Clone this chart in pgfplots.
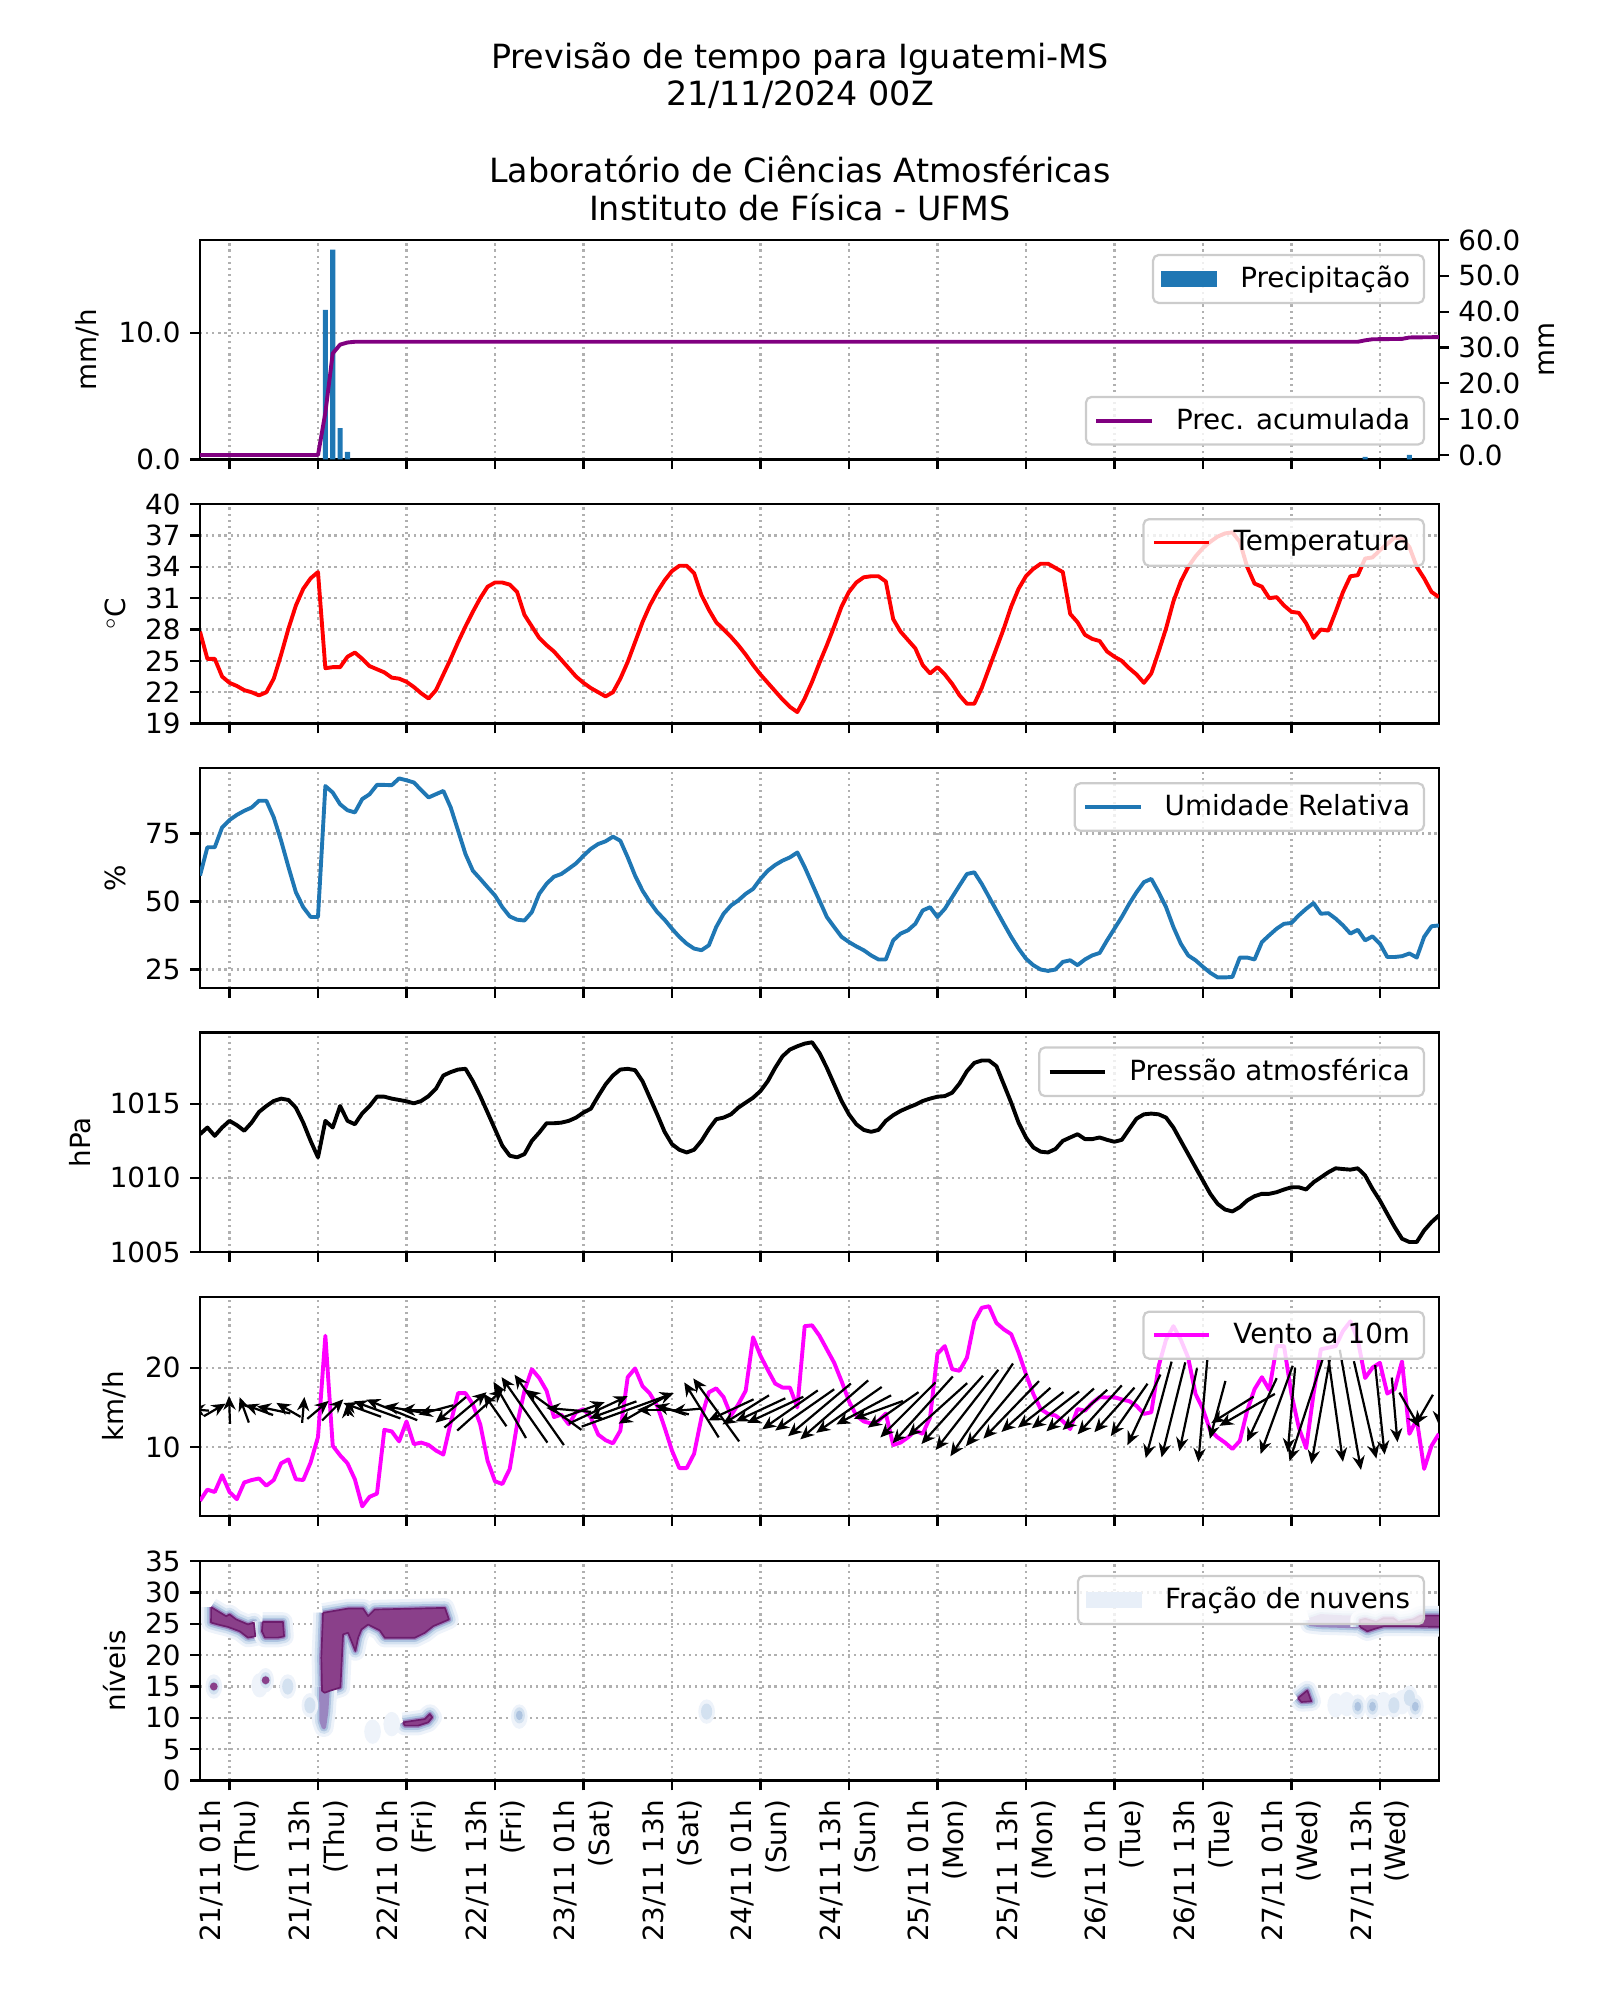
\documentclass[border=0pt]{standalone}
\usepackage{fontspec}
\setmainfont{DejaVu Sans}
\usepackage{pgfplots}
\pgfplotsset{compat=1.18}
\usepackage{pgfplotstable}
\usetikzlibrary{arrows.meta}
\definecolor{c0}{HTML}{1F77B4}
\definecolor{mpurple}{HTML}{800080}
\definecolor{mmag}{HTML}{FF00FF}
\definecolor{gridc}{HTML}{B0B0B0}
\definecolor{legc}{HTML}{CCCCCC}
\definecolor{cl1}{HTML}{EEF3FA}
\definecolor{cl2}{HTML}{D3E1F0}
\definecolor{cl3}{HTML}{AEC4E0}
\definecolor{cl4}{HTML}{9A86C0}
\definecolor{clp}{HTML}{8A408A}
\definecolor{cle}{HTML}{6D1D6D}
\definecolor{legpatch}{HTML}{E8EFF8}

\pgfplotstableread{
h T RH P V ang len
0 27.8 59.5 1012.94 3.3 175 18
1 25.2 69.9 1013.39 4.7 20 22
2 25.2 69.9 1012.83 4.4 30 25
3 23.5 77.2 1013.39 6.5 50 24
4 22.9 79.9 1013.84 4.4 92 28
5 22.6 81.8 1013.55 3.5 95 28
6 22.2 83.3 1013.17 5.6 110 27
7 22.0 84.5 1013.72 5.9 115 28
8 21.7 87.0 1014.44 6.1 160 30
9 22.0 87.0 1014.84 5.2 165 33
10 23.3 80.9 1015.18 5.9 168 34
11 25.6 72.3 1015.34 8.0 160 32
12 28.1 62.6 1015.25 8.5 150 28
13 30.3 53.4 1014.73 6.0 95 26
14 31.9 47.9 1013.72 5.9 85 26
15 32.9 44.3 1012.49 8.1 268 22
16 33.5 44.3 1011.38 11.3 40 28
17 24.3 92.4 1013.84 24.0 35 32
18 24.4 90.0 1013.39 10.2 45 30
19 24.4 85.7 1014.84 9.0 272 38
20 25.4 83.5 1013.84 8.0 95 12
21 25.8 82.7 1013.61 6.0 90 8
22 25.2 87.6 1014.35 2.6 160 40
23 24.5 89.4 1014.84 3.8 158 45
24 24.2 92.8 1015.47 4.2 160 50
25 23.9 92.8 1015.47 12.2 158 55
26 23.4 92.7 1015.34 12.0 158 55
27 23.3 95.2 1015.25 10.75 165 50
28 23.0 94.5 1015.16 13.25 170 45
29 22.5 93.7 1015.02 10.4 175 42
30 21.9 90.9 1015.18 10.6 180 40
31 21.4 88.2 1015.51 10.3 185 38
32 22.2 89.4 1016.01 9.6 195 36
33 23.7 90.6 1016.90 9.1 210 38
34 25.2 84.5 1017.13 13.1 220 40
35 26.8 76.0 1017.30 16.8 35 45
36 28.3 67.4 1017.35 16.8 40 55
37 29.7 61.3 1016.52 15.4 40 62
38 31.0 58.3 1015.51 12.9 42 62
39 32.1 55.2 1014.40 8.3 140 35
40 32.5 52.2 1013.28 5.75 125 40
41 32.5 47.9 1012.16 5.4 122 55
42 32.3 44.5 1011.49 7.3 120 65
43 31.6 43.3 1011.38 12.9 122 72
44 29.4 43.0 1011.60 17.1 125 80
45 28.3 46.1 1012.49 19.8 120 68
46 27.2 52.8 1013.05 18.7 125 86
47 26.5 56.5 1013.68 17.1 135 75
48 25.9 59.1 1013.68 13.8 144 68
49 25.1 60.1 1013.72 14.1 160 50
50 24.3 62.0 1013.84 12.9 175 45
51 23.5 64.0 1014.06 14.4 190 40
52 22.9 66.8 1014.40 14.8 20 45
53 22.4 69.3 1014.66 13.75 22 55
54 22.0 71.1 1015.51 11.6 25 65
55 21.6 72.1 1016.30 10.9 20 80
56 22.0 73.8 1016.90 10.5 200 50
57 23.3 72.3 1017.30 12.1 205 55
58 24.9 66.2 1017.35 18.8 20 98
59 26.8 59.5 1017.26 19.9 25 80
60 28.7 54.0 1016.52 17.7 210 55
61 30.3 49.8 1015.40 16.75 200 45
62 31.6 46.1 1014.28 15.2 180 40
63 32.7 43.3 1013.10 12.5 170 38
64 33.6 40.0 1012.27 9.6 165 35
65 34.1 37.0 1011.89 7.4 175 30
66 34.1 34.5 1011.71 7.4 185 30
67 33.4 32.7 1011.89 9.2 120 50
68 31.3 32.1 1012.49 13.75 122 65
69 29.9 33.9 1013.28 16.9 125 72
70 28.7 40.6 1013.95 17.4 126 78
71 28.0 45.5 1014.06 16.3 200 45
72 27.3 48.5 1014.28 14.0 205 50
73 26.5 50.4 1014.73 15.4 210 52
74 25.6 52.8 1015.07 17.1 212 55
75 24.6 54.6 1015.40 23.8 215 58
76 23.7 58.3 1015.85 21.5 205 55
77 22.9 61.3 1016.52 19.7 210 60
78 22.1 63.4 1017.42 18.0 205 62
79 21.3 65.0 1018.20 17.5 210 65
80 20.6 66.2 1018.65 17.5 215 68
81 20.1 68.0 1018.87 15.0 210 65
82 21.4 62.6 1019.05 25.2 215 72
83 23.0 56.5 1019.14 25.3 220 78
84 24.8 50.4 1018.42 24.0 220 82
85 26.5 44.3 1017.42 22.3 222 85
86 28.3 40.6 1016.30 20.6 221 90
87 30.2 37.0 1015.18 18.3 218 85
88 31.6 35.1 1014.28 15.8 215 80
89 32.5 33.5 1013.61 14.0 212 72
90 33.0 32.1 1013.23 13.25 208 62
91 33.1 30.2 1013.10 13.0 205 55
92 33.1 28.7 1013.23 13.3 200 52
93 32.6 28.7 1013.84 14.25 210 58
94 29.0 35.7 1014.22 10.3 215 62
95 27.8 38.2 1014.51 10.6 222 70
96 27.0 39.4 1014.73 11.25 225 78
97 26.2 41.8 1014.93 12.1 226 85
98 24.6 46.7 1015.18 11.7 228 90
99 23.8 47.9 1015.34 13.75 225 88
100 24.4 44.3 1015.47 21.75 222 80
101 23.7 47.3 1015.51 22.7 225 85
102 22.8 51.6 1015.74 19.8 228 92
103 21.7 55.9 1016.36 19.6 230 98
104 20.9 60.1 1017.19 21.25 232 102
105 20.9 60.7 1017.75 25.8 235 108
106 22.4 56.5 1017.91 27.5 236 112
107 24.3 51.6 1017.91 27.7 234 105
108 26.2 46.7 1017.53 25.6 230 95
109 28.1 41.8 1016.30 24.8 228 88
110 30.2 37.0 1015.07 24.2 226 80
111 31.9 32.7 1013.72 21.9 224 72
112 33.1 29.0 1012.72 19.2 222 66
113 33.8 26.6 1012.05 16.7 220 62
114 34.3 25.0 1011.76 14.8 218 58
115 34.3 24.5 1011.71 14.2 215 55
116 33.9 25.0 1011.94 14.0 218 60
117 33.5 27.8 1012.49 13.3 220 62
118 29.5 28.4 1012.72 12.3 222 64
119 28.7 26.6 1012.94 14.8 225 62
120 27.5 28.7 1012.61 14.6 222 60
121 27.1 30.2 1012.61 15.6 225 64
122 26.9 31.1 1012.72 16.3 228 66
123 25.9 35.7 1012.56 16.25 226 62
124 25.4 40.0 1012.43 16.3 228 60
125 25.0 44.3 1012.56 16.0 230 62
126 24.3 49.1 1013.28 15.8 235 64
127 23.7 53.4 1013.99 15.2 240 70
128 22.9 57.1 1014.28 14.2 245 78
129 23.8 58.3 1014.33 14.4 250 90
130 25.9 53.4 1014.28 20.2 255 100
131 28.1 47.9 1014.06 23.5 258 104
132 30.7 40.6 1013.39 25.2 256 98
133 32.6 34.5 1012.49 23.5 252 90
134 34.0 30.2 1011.60 21.25 258 85
135 35.0 28.4 1010.70 16.7 262 95
136 35.8 26.0 1009.81 14.8 265 105
137 36.4 23.8 1008.92 12.1 268 80
138 36.9 22.1 1008.24 11.25 255 60
139 37.2 22.1 1007.86 10.6 250 55
140 37.3 22.3 1007.73 9.8 212 50
141 36.4 29.4 1008.02 10.8 208 60
142 34.0 29.4 1008.47 14.6 210 64
143 32.4 28.7 1008.76 17.3 215 62
144 32.1 35.1 1008.92 18.8 245 70
145 31.0 37.6 1008.92 17.2 248 85
146 31.1 40.0 1009.03 22.7 250 94
147 30.3 41.8 1009.21 22.7 252 98
148 29.7 42.1 1009.36 16.7 265 85
149 29.6 44.9 1009.36 12.5 255 100
150 28.6 47.3 1009.21 9.9 252 108
151 27.2 49.4 1009.70 16.7 255 114
152 28.0 45.5 1010.03 22.3 260 110
153 27.9 45.7 1010.37 22.5 270 100
154 29.7 43.7 1010.64 22.7 278 105
155 31.6 41.2 1010.59 24.6 282 115
156 33.1 38.2 1010.55 25.8 280 122
157 33.2 39.6 1010.64 23.5 285 110
158 34.8 35.7 1010.15 18.7 283 100
159 34.9 37.2 1009.25 20.0 280 92
160 35.6 34.5 1008.47 20.6 276 90
161 36.2 29.6 1007.57 16.75 278 80
162 36.8 29.6 1006.68 17.3 275 65
163 36.7 29.9 1005.89 20.8 290 50
164 35.9 30.9 1005.67 11.7 300 40
165 34.0 29.4 1005.67 13.5 250 40
166 32.9 37.0 1006.45 7.3 240 35
167 31.6 40.9 1007.01 10.2 225 40
168 31.1 41.2 1007.46 11.7 270 30
}\met

% cloud blobs (hour, level)
\pgfplotstableread{
h L
1.51 27.65
3.55 26.2
4.0 26.5
4.9 25.7
6.5 24.9
7.3 25.2
7.5 23.0
6.5 22.8
5.4 23.8
3.8 24.5
2.4 24.9
1.5 25.2
1.51 27.65
}\blobA
\pgfplotstableread{
h L
8.5 25.3
11.25 25.3
11.4 23.0
10.6 22.8
8.8 22.8
8.4 23.8
8.5 25.3
}\blobAb
\pgfplotstableread{
h L
16.68 26.75
20.08 27.43
22.12 27.43
22.80 26.22
23.70 27.28
33.21 27.54
33.76 25.69
31.63 24.63
30.49 23.57
29.14 22.78
25.06 22.78
24.38 23.94
22.80 24.89
21.89 24.10
21.44 22.78
21.07 20.66
20.53 22.25
20.08 23.57
19.40 23.31
19.17 18.02
19.04 14.84
17.59 14.31
16.90 14.0
16.55 14.31
16.45 19.60
16.68 26.75
}\blobB
\pgfplotstableread{
h L
16.45 15.0
17.3 14.5
17.1 11.0
16.8 8.5
16.5 9.5
16.45 15.0
}\blobT
\pgfplotstableread{
h L
27.55 9.29
30.49 9.81
31.17 10.61
31.49 10.08
30.95 9.29
29.59 8.76
27.78 8.76
27.55 9.29
}\blobC
\pgfplotstableread{
h L
157.3 24.5
158.3 23.8
159.3 24.2
160.5 24.6
164.0 24.6
168.5 24.5
168.5 26.3
165.5 26.3
164.5 25.7
162.5 25.3
161.8 25.9
160.5 25.9
159.5 25.3
158.0 25.8
157.3 25.6
157.3 24.5
}\blobD
\pgfplotstableread{
h L
150.5 25.6
152 26.2
155 26.0
157.3 26.0
157.3 24.6
155 24.7
152 24.8
150.5 25.0
150.5 25.6
}\blobE
\pgfplotstableread{
h L
148.9 13.16
150.16 14.37
150.7 12.63
149.35 12.53
148.9 13.16
}\blobF

\pgfplotsset{
 mybase/.style={
  scale only axis, width=446pt, height=79pt,
  xmin=0, xmax=168,
  xtick={4,16,...,160}, xticklabels={},
  tick align=outside, xtick pos=lower, ytick pos=left,
  major tick length=3.5pt,
  tick style={black, line width=0.8pt},
  axis line style={line width=0.8pt},
  xmajorgrids, ymajorgrids,
  major grid style={gridc, line width=0.8pt, dash pattern=on 0.8pt off 1.4pt},
  tick label style={font=\fontsize{10}{12}\selectfont},
  label style={font=\fontsize{10}{12}\selectfont},
  /pgf/number format/assume math mode=true,
  /pgf/number format/1000 sep={},
  scaled y ticks=false,
  anchor=north west,
  legend cell align=left,
  legend style={draw=legc, line width=0.8pt, rounded corners=2pt, fill=white,
    fill opacity=0.8, draw opacity=1, text opacity=1,
    font=\fontsize{10}{12}\selectfont, inner xsep=3pt, inner ysep=2pt},
  legend image code/.code={\draw[##1, sharp corners] (0pt,0pt) -- (20pt,0pt); \path (26pt,0pt);},
 },
 legUR/.style={legend style={at={(1,1)}, anchor=north east, xshift=-5pt, yshift=-5pt}},
 legLR/.style={legend style={at={(1,0)}, anchor=south east, xshift=-5pt, yshift=5pt}},
 mypatch/.style={legend image code/.code={\fill[##1, draw=none, fill opacity=1, sharp corners] (0pt,-3pt) rectangle (20pt,3pt); \path (26pt,0pt);}},
 ha/.style={draw=cl1, fill=cl1, line width=7pt, line join=round, forget plot},
 hb/.style={draw=cl2, fill=cl2, line width=4.8pt, line join=round, forget plot},
 hc/.style={draw=cl3, fill=cl3, line width=3pt, line join=round, forget plot},
 hd/.style={draw=cl4, fill=cl4, line width=1.6pt, line join=round, forget plot},
 core/.style={draw=cle, fill=clp, line width=0.6pt, line join=round, forget plot},
 dline/.style={line width=1.4pt, line join=round},
}
\newcommand\halo[1]{%
 \addplot[ha] table[x=h,y=L] {#1};
 \addplot[hb] table[x=h,y=L] {#1};
 \addplot[hc] table[x=h,y=L] {#1};
 \addplot[hd] table[x=h,y=L] {#1};}
\newcommand\core[1]{\addplot[core] table[x=h,y=L] {#1};}

\begin{document}
\begin{tikzpicture}
\path[use as bounding box] (0,0) rectangle (576pt,720pt);
\begin{scope}[font=\fontsize{12}{14.4}\selectfont]
\node[anchor=base] at (288pt,695.4pt) {Previsão de tempo para Iguatemi-MS};
\node[anchor=base] at (288pt,682.1pt) {21/11/2024 00Z};
\node[anchor=base] at (288pt,654.4pt) {Laboratório de Ciências Atmosféricas};
\node[anchor=base] at (288pt,640.7pt) {Instituto de Física - UFMS};
\end{scope}

% ---------- panel 1: precipitation
\begin{axis}[mybase, legUR, at={(72pt,633.6pt)}, ymin=0, ymax=17.32, ytick={0,10},
  yticklabel style={/pgf/number format/.cd, fixed, fixed zerofill, precision=1},
  ylabel={mm/h}]
\addlegendimage{mypatch, fill=c0}
\addlegendentry{Precipitação}
\addplot[ybar, bar width=0.7, fill=c0, draw=none, forget plot] coordinates
 {(17,11.8) (18,16.55) (19,2.48) (20,0.6) (158,0.2) (164,0.35)};
\end{axis}
\begin{axis}[mybase, legLR, at={(72pt,633.6pt)}, axis y line*=right, axis x line=none,
  xmajorgrids=false, ymajorgrids=false, ytick pos=right,
  ymin=-1.23, ymax=60, ytick={0,10,...,60},
  yticklabel style={/pgf/number format/.cd, fixed, fixed zerofill, precision=1},
  ylabel={mm}]
\addlegendimage{mpurple, dline}
\addlegendentry{Prec. acumulada}
\addplot[mpurple, dline, forget plot] coordinates
 {(0,0) (16,0) (17,11.8) (18,28.35) (19,30.8) (20,31.4) (21,31.6) (157,31.6) (158,32.0) (159,32.3) (163,32.4) (164,32.8) (168,32.9)};
\end{axis}

% ---------- panel 2: temperature
\begin{axis}[mybase, legUR, at={(72pt,538.5pt)}, ymin=19, ymax=40, ytick={19,22,...,40},
  ylabel={$^\circ$C}]
\addlegendimage{red, dline}
\addlegendentry{Temperatura}
\addplot[red, dline, forget plot] table[x=h, y=T] {\met};
\end{axis}

% ---------- panel 3: relative humidity
\begin{axis}[mybase, legUR, at={(72pt,443.4pt)}, ymin=18.3, ymax=98.9, ytick={25,50,75},
  ylabel={\%}]
\addlegendimage{c0, dline}
\addlegendentry{Umidade Relativa}
\addplot[c0, dline, forget plot] table[x=h, y=RH] {\met};
\end{axis}

% ---------- panel 4: pressure
\begin{axis}[mybase, legUR, at={(72pt,348.3pt)}, ymin=1005, ymax=1019.8, ytick={1005,1010,1015},
  ylabel={hPa}]
\addlegendimage{black, dline}
\addlegendentry{Pressão atmosférica}
\addplot[black, dline, forget plot] table[x=h, y=P] {\met};
\end{axis}

% ---------- panel 5: wind
\begin{axis}[mybase, legUR, at={(72pt,253.2pt)}, ymin=1.38, ymax=28.9, ytick={10,20},
  ylabel={km/h}]
\addlegendimage{mmag, dline}
\addlegendentry{Vento a 10m}
\addplot[mmag, dline, forget plot] table[x=h, y=V] {\met};
\addplot[black, line width=0.8pt, -{Stealth[length=5pt, width=4.4pt]}, forget plot, each nth point=2,
  quiver={u={\thisrow{len}*cos(\thisrow{ang})/7.375}, v={\thisrow{len}*sin(\thisrow{ang})/7.98}}]
  table[x expr={\thisrow{h}-0.5*\thisrow{len}*cos(\thisrow{ang})/7.375},
        y expr={14.7-0.5*\thisrow{len}*sin(\thisrow{ang})/7.98}] {\met};
\end{axis}

% ---------- panel 6: cloud fraction
\begin{axis}[mybase, legUR, at={(72pt,158.0pt)}, ymin=0, ymax=35, ytick={0,5,...,35},
  ylabel={níveis},
  xticklabels={{21/11 01h\\(Thu)},{21/11 13h\\(Thu)},{22/11 01h\\(Fri)},{22/11 13h\\(Fri)},
   {23/11 01h\\(Sat)},{23/11 13h\\(Sat)},{24/11 01h\\(Sun)},{24/11 13h\\(Sun)},
   {25/11 01h\\(Mon)},{25/11 13h\\(Mon)},{26/11 01h\\(Tue)},{26/11 13h\\(Tue)},
   {27/11 01h\\(Wed)},{27/11 13h\\(Wed)}},
  xticklabel style={rotate=90, anchor=east, align=right, font=\fontsize{10}{12.5}\selectfont}]
\addlegendimage{mypatch, fill=legpatch}
\addlegendentry{Fração de nuvens}
% specks
\addplot[only marks, mark=*, mark size=2.8pt, color=cl1, mark options={yscale=1.5}, forget plot] coordinates
 {(1.87,15.0) (8.9,16.0) (8.1,15.2) (11.9,15.0) (14.9,12.0) (26.0,9.0) (43.3,10.2) (68.7,11.0) (154,12) (157,11.8) (159,11.8) (161.9,12) (164,13.2) (164.8,11.8) (23.4,7.8) (155.5,12.2) (160.5,12.2) (163,12.5)};
\addplot[only marks, mark=*, mark size=1.8pt, color=cl2, mark options={yscale=1.5}, forget plot] coordinates
 {(1.87,15.0) (8.9,16.0) (11.9,15.0) (43.3,10.4) (68.7,11.0) (157,11.8) (159,11.8) (164,13.2) (164.8,11.8) (161.9,12) (14.9,12.0)};
\addplot[only marks, mark=*, mark size=1.0pt, color=cl3, mark options={yscale=1.5}, forget plot] coordinates
 {(43.3,10.4) (159,11.8) (157,11.8) (164.8,11.8) (1.87,15.0) (8.9,16.0)};
\halo{\blobA}
\halo{\blobAb}
\halo{\blobB}
\halo{\blobT}
\halo{\blobC}
\halo{\blobE}
\halo{\blobD}
\halo{\blobF}
\core{\blobA}
\core{\blobAb}
\core{\blobB}
\core{\blobC}
\core{\blobD}
\core{\blobF}
\addplot[only marks, mark=*, mark size=1.2pt, color=clp, forget plot] coordinates {(1.87,15.0) (8.9,16.0)};
\end{axis}
\end{tikzpicture}
\end{document}
